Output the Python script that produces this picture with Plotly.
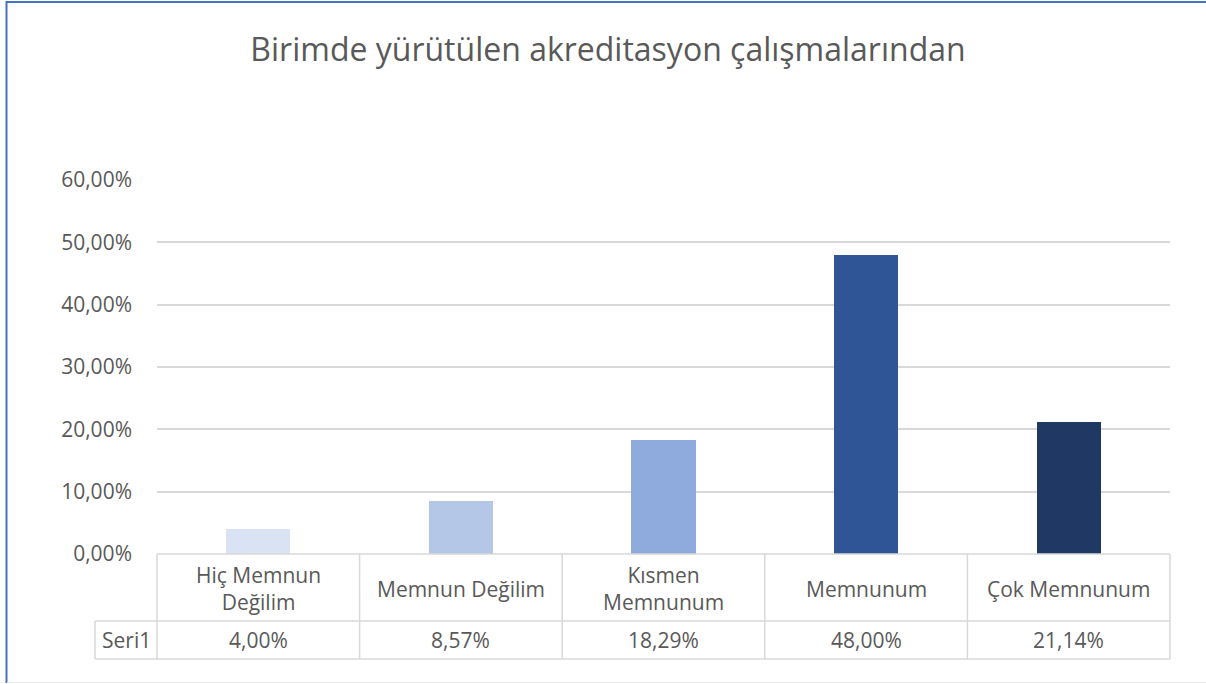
import plotly.graph_objects as go

# ---- data ----
categories = ["Hiç Memnun Değilim", "Memnun Değilim", "Kısmen Memnunum", "Memnunum", "Çok Memnunum"]
header_labels = ["Hiç Memnun<br>Değilim", "Memnun Değilim", "Kısmen<br>Memnunum", "Memnunum", "Çok Memnunum"]
values = [4.00, 8.57, 18.29, 48.00, 21.14]
series_name = "Seri1"
bar_colors = ["#DAE3F3", "#B4C7E7", "#8FAADC", "#2F5597", "#203864"]
title_text = "Birimde yürütülen akreditasyon çalışmalarından"
y_ticks = [0, 10, 20, 30, 40, 50, 60]

W, H = 1206, 684
L, R, T, B = 157, 36, 180, 130
PW, PH = W - L - R, H - T - B
FONT = "Open Sans"
TXT = "#595959"
GRID = "#D9D9D9"
FS = 21


def px_x(px):
    return (px - L) / PW


def px_y(py):
    return (H - B - py) / PH


def fmt(v):
    return f"{v:.2f}".replace(".", ",") + "%"


fig = go.Figure(go.Bar(
    x=categories, y=values, marker=dict(color=bar_colors, line=dict(width=0)),
    width=0.316, name=series_name, showlegend=False,
))

n = len(categories)
shapes = []
line = dict(color=GRID, width=1.5)
row_top, row_mid, row_bot = 554, 621, 659
shapes.append(dict(type="line", xref="x domain", yref="paper", x0=0, x1=1,
                   y0=px_y(row_top), y1=px_y(row_top), line=line))
shapes.append(dict(type="line", xref="x domain", yref="paper", x0=px_x(95), x1=1,
                   y0=px_y(row_mid), y1=px_y(row_mid), line=line))
shapes.append(dict(type="line", xref="x domain", yref="paper", x0=px_x(95), x1=1,
                   y0=px_y(row_bot), y1=px_y(row_bot), line=line))
for i in range(n + 1):
    shapes.append(dict(type="line", xref="x domain", yref="paper", x0=i / n, x1=i / n,
                       y0=px_y(row_top), y1=px_y(row_bot), line=line))
shapes.append(dict(type="line", xref="x domain", yref="paper", x0=px_x(95), x1=px_x(95),
                   y0=px_y(row_mid), y1=px_y(row_bot), line=line))
# outer chart border
shapes.append(dict(type="line", xref="paper", yref="paper", x0=px_x(6.5), x1=px_x(W + 5),
                   y0=px_y(2), y1=px_y(2), line=dict(color="#4472C4", width=2)))
shapes.append(dict(type="line", xref="paper", yref="paper", x0=px_x(6.5), x1=px_x(6.5),
                   y0=px_y(1), y1=px_y(683), line=dict(color="#4472C4", width=2)))
shapes.append(dict(type="line", xref="paper", yref="paper", x0=px_x(7), x1=px_x(W + 5),
                   y0=px_y(682.5), y1=px_y(682.5), line=dict(color="#E4E9F4", width=1)))

annotations = []
for cat, lab, v in zip(categories, header_labels, values):
    annotations.append(dict(x=cat, xref="x", y=px_y((row_top + row_mid) / 2 + 1), yref="paper",
                            text=lab, showarrow=False, font=dict(family=FONT, size=FS, color=TXT),
                            xanchor="center", yanchor="middle"))
    annotations.append(dict(x=cat, xref="x", y=px_y((row_mid + row_bot) / 2), yref="paper",
                            text=fmt(v), showarrow=False, font=dict(family=FONT, size=FS, color=TXT),
                            xanchor="center", yanchor="middle"))
annotations.append(dict(x=px_x(126), xref="paper", y=px_y((row_mid + row_bot) / 2), yref="paper",
                        text=series_name, showarrow=False, font=dict(family=FONT, size=FS, color=TXT),
                        xanchor="center", yanchor="middle"))

fig.update_layout(
    width=W, height=H,
    margin=dict(l=L, r=R, t=T, b=B, pad=0),
    paper_bgcolor="white", plot_bgcolor="white",
    title=dict(text=title_text, x=608 / W, xanchor="center", y=1 - 50 / H, yanchor="middle",
               font=dict(family=FONT, size=32, color=TXT)),
    xaxis=dict(showticklabels=False, showgrid=False, zeroline=False, showline=False, ticks=""),
    yaxis=dict(range=[0, 60], tickvals=y_ticks, ticktext=[fmt(t) for t in y_ticks],
               showgrid=True, gridcolor=GRID, gridwidth=1.5, zeroline=False, showline=False,
               ticks="", ticklabelstandoff=24,
               tickfont=dict(family=FONT, size=FS, color=TXT)),
    shapes=shapes, annotations=annotations, bargap=0,
)

fig.write_html("out.html", config={"displayModeBar": False})
with open("out.html", encoding="utf-8") as f:
    html = f.read()
html = html.replace("<head>", "<head><style>html,body{margin:0;padding:0;overflow:hidden;}</style>", 1)
with open("out.html", "w", encoding="utf-8") as f:
    f.write(html)
